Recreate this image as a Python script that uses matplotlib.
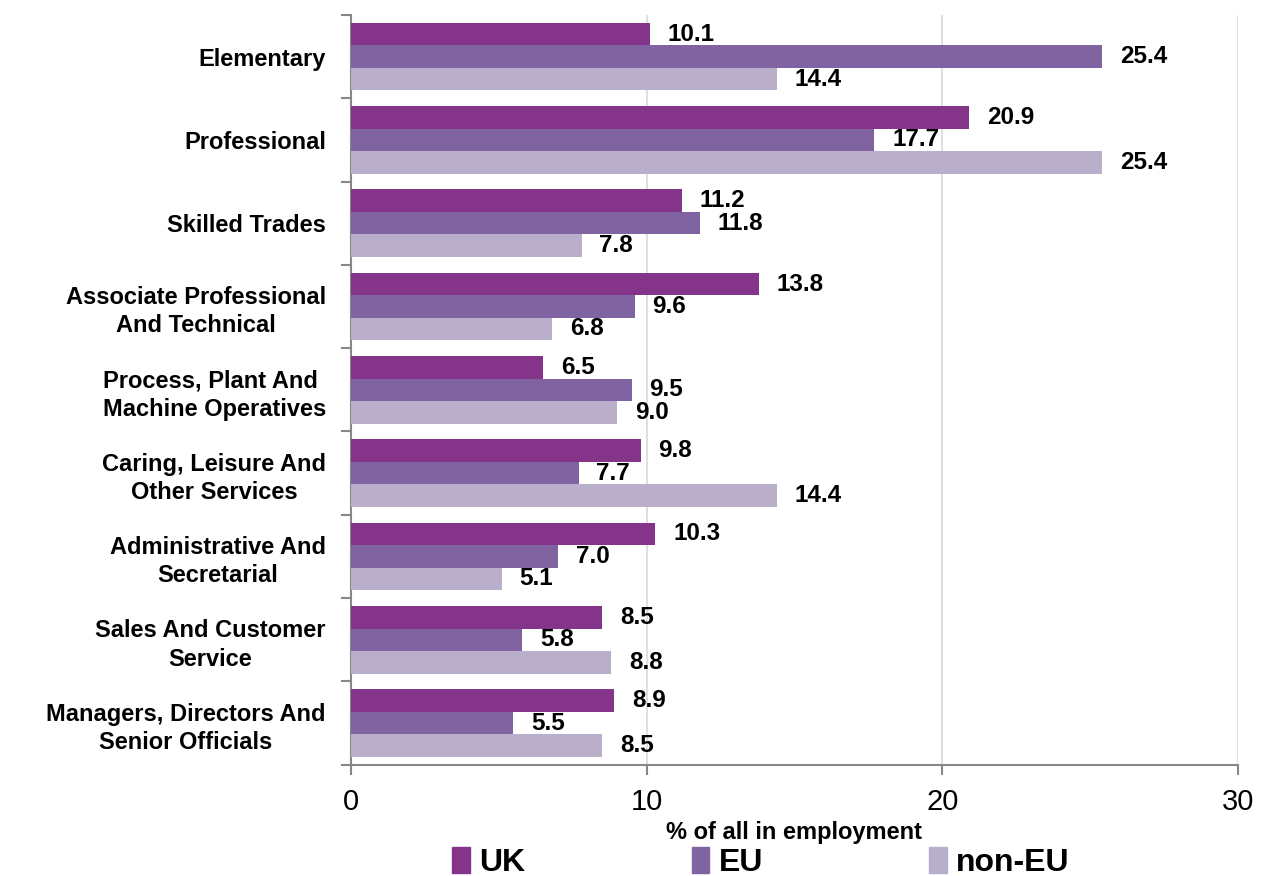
import matplotlib.pyplot as plt
from matplotlib.patches import Patch
import numpy as np

plt.rcParams['font.family'] = ['Liberation Sans', 'DejaVu Sans']

categories = ["Elementary", "Professional", "Skilled Trades",
              "Associate Professional\nAnd Technical",
              "Process, Plant And \nMachine Operatives",
              "Caring, Leisure And\nOther Services",
              "Administrative And\nSecretarial",
              "Sales And Customer\nService",
              "Managers, Directors And\nSenior Officials"]
uk = [10.1, 20.9, 11.2, 13.8, 6.5, 9.8, 10.3, 8.5, 8.9]
eu = [25.4, 17.7, 11.8, 9.6, 9.5, 7.7, 7.0, 5.8, 5.5]
non_eu = [14.4, 25.4, 7.8, 6.8, 9.0, 14.4, 5.1, 8.8, 8.5]
series_names = ["UK", "EU", "non-EU"]
colors = ["#84358A", "#8064A2", "#B9AFCA"]

fig = plt.figure(figsize=(12.62, 8.76), dpi=100)
ax = fig.add_axes([0.278, 0.127, 0.703, 0.856])

n = len(categories)
ypos = np.arange(n)[::-1].astype(float)  # first category at top
h = 0.27
for k, (vals, c) in enumerate(zip([uk, eu, non_eu], colors)):
    y = ypos + h * (1 - k)
    ax.barh(y, vals, height=h, color=c, zorder=3)
    for yy, v in zip(y, vals):
        ax.text(v + 0.6, yy, f"{v:.1f}", va='center', ha='left',
                fontsize=17.5, fontweight='bold', zorder=4)

ax.set_xlim(0, 30)
ax.set_ylim(-0.5, n - 0.5)
ax.set_xticks([0, 10, 20, 30])
ax.set_xticklabels(["0", "10", "20", "30"], fontsize=21)
ax.xaxis.grid(True, color='#D9D9D9', linewidth=1.2, zorder=0)

ax.set_yticks(ypos)
ax.set_yticklabels(categories, fontsize=17, fontweight='bold', ha='right',
                   multialignment='center', linespacing=1.3)
ax.tick_params(axis='y', length=0, pad=18)
ax.set_yticks(np.arange(n + 1) - 0.5, minor=True)
ax.tick_params(axis='y', which='minor', length=7, color='#888888', width=1.5)
ax.tick_params(axis='x', length=7, color='#888888', width=1.5, pad=10)

for s in ['top', 'right']:
    ax.spines[s].set_visible(False)
for s in ['left', 'bottom']:
    ax.spines[s].set_color('#888888')
    ax.spines[s].set_linewidth(1.5)

ax.set_xlabel("% of all in employment", fontsize=17, fontweight='bold', labelpad=3)

handles = [Patch(color=c) for c in colors]
fig.legend(handles, series_names, loc='lower center', bbox_to_anchor=(0.603, -0.035),
           ncol=3, frameon=False, prop={'size': 23, 'weight': 'bold'},
           handlelength=0.55, handleheight=0.9, handletextpad=0.3, columnspacing=5.2)

fig.savefig("out.png", dpi=100)
